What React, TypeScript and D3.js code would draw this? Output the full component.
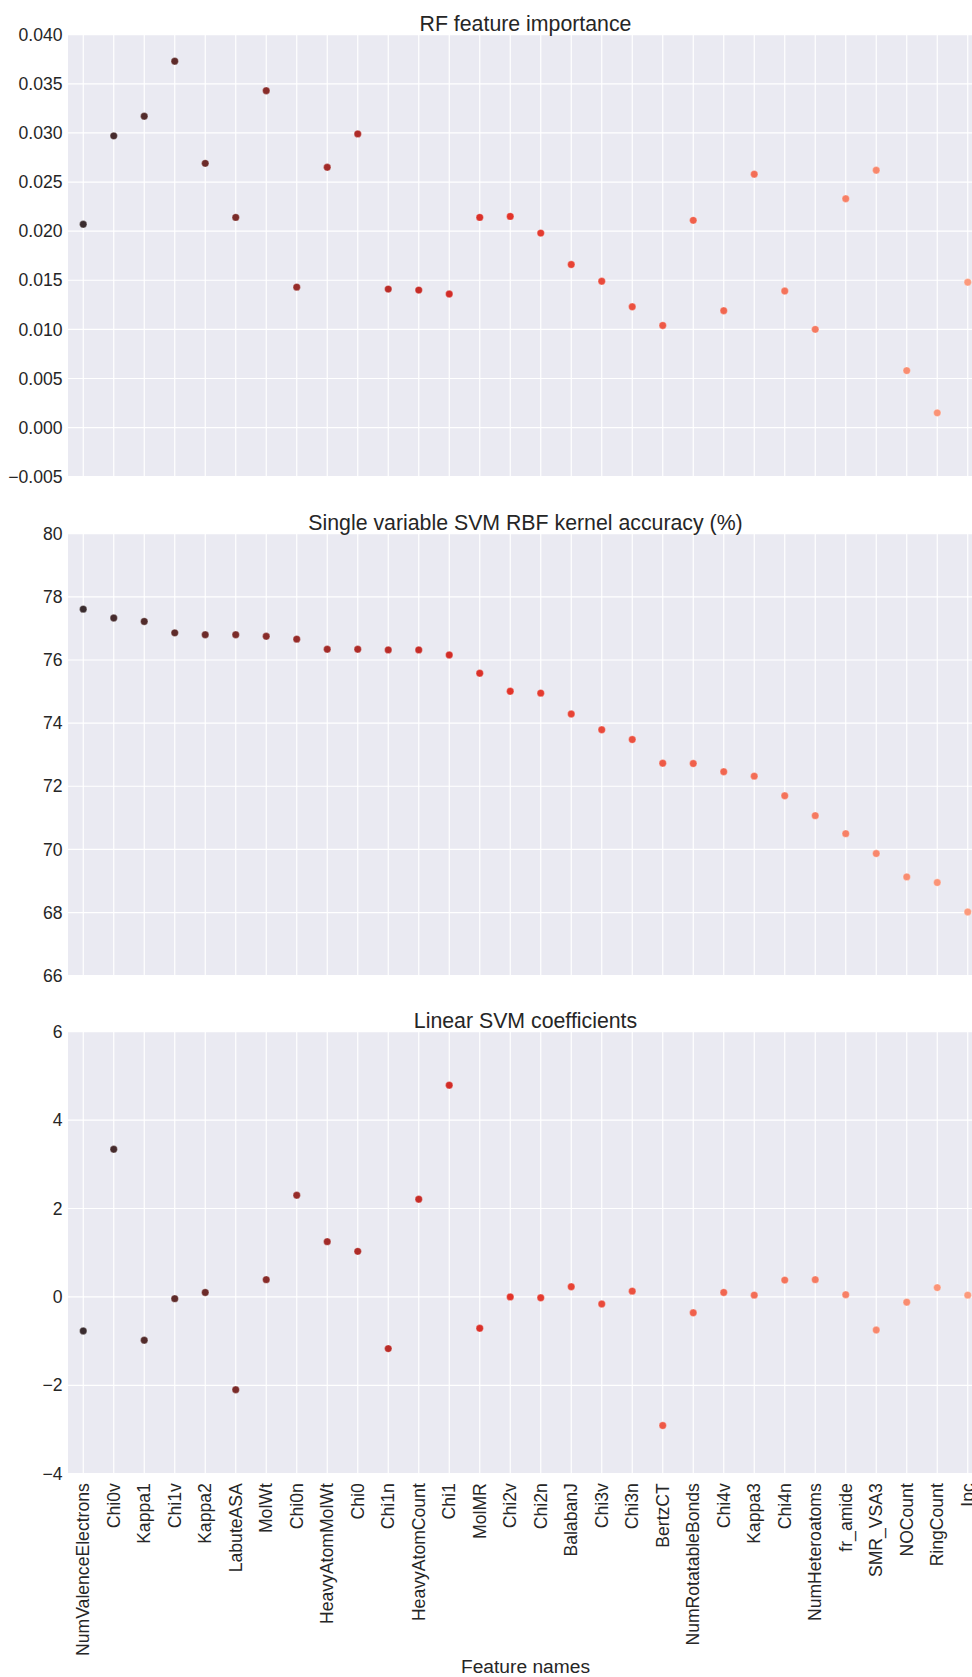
import React, { useRef, useEffect } from "react";
import * as d3 from "d3";

const WIDTH = 972;
const HEIGHT = 1677;
const PLOT_LEFT = 68;
const PLOT_RIGHT = 983; // axes run a little past the picture's right edge
const PANEL_TOPS = [34.7, 533.7, 1031.7];
const PANEL_H = 442;
const BG = "#eaeaf2";
const TEXT = "#262626";
const FONT = "'Liberation Sans', Arial, sans-serif";

const features = [
  "NumValenceElectrons", "Chi0v", "Kappa1", "Chi1v", "Kappa2", "LabuteASA",
  "MolWt", "Chi0n", "HeavyAtomMolWt", "Chi0", "Chi1n", "HeavyAtomCount",
  "Chi1", "MolMR", "Chi2v", "Chi2n", "BalabanJ", "Chi3v", "Chi3n", "BertzCT",
  "NumRotatableBonds", "Chi4v", "Kappa3", "Chi4n", "NumHeteroatoms",
  "fr_amide", "SMR_VSA3", "NOCount", "RingCount", "Ipc",
];

const rfImportance = [
  0.0207, 0.0297, 0.0317, 0.0373, 0.0269, 0.0214, 0.0343, 0.0143, 0.0265,
  0.0299, 0.0141, 0.0140, 0.0136, 0.0214, 0.0215, 0.0198, 0.0166, 0.0149,
  0.0123, 0.0104, 0.0211, 0.0119, 0.0258, 0.0139, 0.0100, 0.0233, 0.0262,
  0.0058, 0.0015, 0.0148,
];

const svmAccuracy = [
  77.61, 77.33, 77.22, 76.86, 76.8, 76.8, 76.75, 76.66, 76.34, 76.34, 76.32,
  76.32, 76.16, 75.58, 75.01, 74.95, 74.29, 73.79, 73.48, 72.73, 72.72,
  72.46, 72.32, 71.7, 71.07, 70.5, 69.87, 69.13, 68.95, 68.02,
];

const linearCoef = [
  -0.77, 3.34, -0.98, -0.04, 0.1, -2.1, 0.39, 2.3, 1.25, 1.03, -1.17, 2.21,
  4.79, -0.71, 0.0, -0.02, 0.23, -0.16, 0.13, -2.91, -0.36, 0.1, 0.04, 0.38,
  0.39, 0.05, -0.75, -0.12, 0.21, 0.04,
];

const titles = [
  "RF feature importance",
  "Single variable SVM RBF kernel accuracy (%)",
  "Linear SVM coefficients",
];
const yDomains = [[-0.005, 0.04], [66, 80], [-4, 6]];
const yTicks = [
  [-0.005, 0, 0.005, 0.01, 0.015, 0.02, 0.025, 0.03, 0.035, 0.04],
  [66, 68, 70, 72, 74, 76, 78, 80],
  [-4, -2, 0, 2, 4, 6],
];
const tickFormats = [d3.format(".3f"), d3.format("d"), d3.format("d")];

const colorStops = ["#3a2c2f", "#5e2a29", "#962b29", "#d22c27", "#e2342a", "#f0604b", "#fc9a7c"];

export default function App() {
  const svgRef = useRef<SVGSVGElement>(null);

  useEffect(() => {
    const svg = d3.select(svgRef.current);
    svg.selectAll("*").remove();

    const x = d3.scalePoint<string>().domain(features).range([PLOT_LEFT, PLOT_RIGHT]).padding(0.5);
    const color = d3
      .scaleLinear<string>()
      .domain([0, 3, 7, 12, 14, 20, 29])
      .range(colorStops)
      .interpolate(d3.interpolateRgb);

    const series = [rfImportance, svmAccuracy, linearCoef];

    series.forEach((values, p) => {
      const top = PANEL_TOPS[p];
      const y = d3.scaleLinear().domain(yDomains[p]).range([top + PANEL_H, top]);
      const g = svg.append("g");

      g.append("rect")
        .attr("x", PLOT_LEFT)
        .attr("y", top)
        .attr("width", PLOT_RIGHT - PLOT_LEFT)
        .attr("height", PANEL_H)
        .attr("fill", BG);

      // grid
      g.selectAll(".hgrid")
        .data(yTicks[p])
        .join("line")
        .attr("x1", PLOT_LEFT)
        .attr("x2", PLOT_RIGHT)
        .attr("y1", (d) => y(d))
        .attr("y2", (d) => y(d))
        .attr("stroke", "#fff")
        .attr("stroke-width", 1.2);
      g.selectAll(".vgrid")
        .data(features)
        .join("line")
        .attr("x1", (d) => x(d)!)
        .attr("x2", (d) => x(d)!)
        .attr("y1", top)
        .attr("y2", top + PANEL_H)
        .attr("stroke", "#fff")
        .attr("stroke-width", 1.2);

      // y tick labels
      g.selectAll(".ytick")
        .data(yTicks[p])
        .join("text")
        .attr("x", 62.5)
        .attr("y", (d) => y(d))
        .attr("dy", "0.35em")
        .attr("text-anchor", "end")
        .attr("font-family", FONT)
        .attr("font-size", 17.6)
        .attr("fill", TEXT)
        .text((d) => tickFormats[p](d).replace("-", "\u2212"));

      // title
      g.append("text")
        .attr("x", (PLOT_LEFT + PLOT_RIGHT) / 2)
        .attr("y", top - 3.3)
        .attr("text-anchor", "middle")
        .attr("font-family", FONT)
        .attr("font-size", 21.3)
        .attr("fill", TEXT)
        .text(titles[p]);

      // points
      g.selectAll("circle")
        .data(values)
        .join("circle")
        .attr("cx", (_, i) => x(features[i])!)
        .attr("cy", (d) => y(d))
        .attr("r", 3.7)
        .attr("fill", (_, i) => color(i))
        .attr("stroke", "#fff")
        .attr("stroke-width", 0.3);
    });

    // feature names under the last panel
    const bottom = PANEL_TOPS[2] + PANEL_H;
    svg
      .append("g")
      .selectAll("text")
      .data(features)
      .join("text")
      .attr("transform", (d) => `translate(${x(d)},${bottom + 9.5}) rotate(-90)`)
      .attr("dy", "0.35em")
      .attr("text-anchor", "end")
      .attr("font-family", FONT)
      .attr("font-size", 17.6)
      .attr("fill", TEXT)
      .text((d) => d);

    svg
      .append("text")
      .attr("x", (PLOT_LEFT + PLOT_RIGHT) / 2)
      .attr("y", 1673)
      .attr("text-anchor", "middle")
      .attr("font-family", FONT)
      .attr("font-size", 19.2)
      .attr("fill", TEXT)
      .text("Feature names");
  }, []);

  return (
    <svg
      ref={svgRef}
      width={WIDTH}
      height={HEIGHT}
      style={{ position: "absolute", left: 0, top: 0, overflow: "hidden", background: "#fff" }}
    />
  );
}
